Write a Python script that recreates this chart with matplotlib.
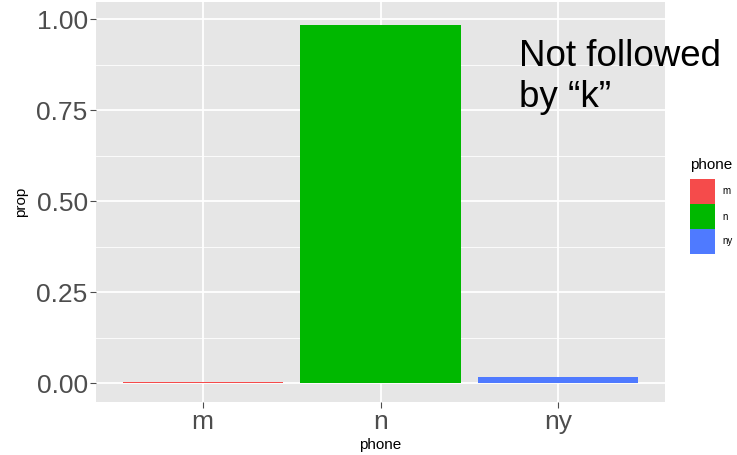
import numpy as np
import matplotlib.pyplot as plt
from matplotlib.patches import Rectangle
from matplotlib.ticker import MultipleLocator

plt.rcParams['font.family'] = ['Liberation Sans', 'DejaVu Sans']

# data
phones = ['m', 'n', 'ny']
props = [0.003, 0.983, 0.016]
colors = ['#F54B4B', '#00B800', '#4F7AFF']
yticks = [0.00, 0.25, 0.50, 0.75, 1.00]
ytick_labels = ['0.00', '0.25', '0.50', '0.75', '1.00']

W, H = 737, 455
fig = plt.figure(figsize=(W / 100, H / 100), dpi=100, facecolor='white')
ax = fig.add_axes([96 / W, 1 - 402 / H, (665 - 96) / W, (402 - 2) / H])
ax.set_facecolor('#E6E6E6')

x = np.arange(1, len(phones) + 1)
ax.bar(x, props, width=0.9, color=colors, zorder=3)

ax.set_xlim(0.4, 3.6)
ax.set_ylim(-0.052, 1.047)
ax.set_xticks(x)
ax.set_xticklabels(phones)
ax.set_yticks(yticks)
ax.set_yticklabels(ytick_labels)
ax.yaxis.set_minor_locator(MultipleLocator(0.125))

ax.grid(which='major', color='white', linewidth=1.3, zorder=0)
ax.grid(which='minor', axis='y', color='white', linewidth=0.6, zorder=0)
ax.set_axisbelow(True)
for s in ax.spines.values():
    s.set_visible(False)

ax.tick_params(axis='both', which='major', labelsize=19, labelcolor='#4D4D4D',
               color='#4D4D4D', length=4, width=0.8, pad=2)
ax.tick_params(axis='both', which='minor', length=0)

ax.set_xlabel('phone', fontsize=11, color='black', labelpad=3)
ax.set_ylabel('prop', fontsize=11, color='black', labelpad=6)

# legend, ggplot style: keys stacked with no gap
fig.text(690 / W, 1 - 165 / H, 'phone', fontsize=11, color='black',
         ha='left', va='center')
key = 25
for i, (p, c) in enumerate(zip(phones, colors)):
    top = 179 + i * key
    fig.patches.append(Rectangle((690 / W, 1 - (top + key) / H), key / W, key / H,
                                 transform=fig.transFigure, facecolor=c,
                                 edgecolor='none'))
    fig.text(722 / W, 1 - (top + key / 2) / H, p, fontsize=7, color='black',
             ha='left', va='center')

# overlaid note
fig.text(519 / W, 1 - 39 / H, 'Not followed\nby \u201ck\u201d', fontsize=26.5,
         color='black', ha='left', va='top', linespacing=1.22)

fig.savefig('out.png', dpi=100, facecolor='white')
